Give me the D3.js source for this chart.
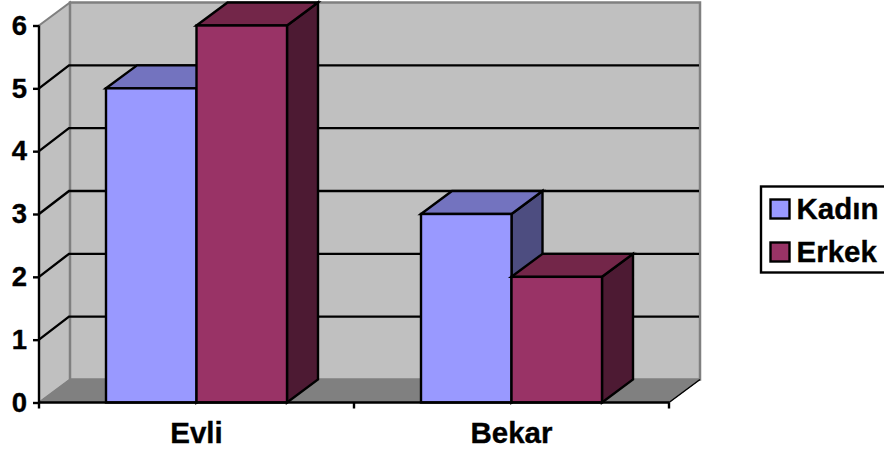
<!DOCTYPE html>
<html>
<head>
<meta charset="utf-8">
<script src="https://cdn.jsdelivr.net/npm/d3@7"></script>
<style>
html,body{margin:0;padding:0;background:#fff;overflow:hidden}
svg{display:block}
text{font-family:"Liberation Sans",Arial,sans-serif;font-weight:bold;fill:#000;stroke:#000;stroke-width:0.35px}
</style>
</head>
<body>
<svg id="chart" width="884" height="454"></svg>
<script>
// Chart values
const categories = ["Evli", "Bekar"];
const seriesNames = ["Kadın", "Erkek"];
const kadinValues = [5, 3];
const erkekValues = [6, 2];
const yTicks = [0, 1, 2, 3, 4, 5, 6];
const seriesValues = [kadinValues, erkekValues];

// Fill colours per series: front, top, side
const frontColors = ["#9999ff", "#993366"];
const topColors = ["#7373bf", "#732649"];
const sideColors = ["#4d4d80", "#4d1a33"];

const svg = d3.select("#chart");
const depthX = 31, depthY = -23;
const lineW = 2.4, tickFont = 27.5, labelFont = 29.5;

const y = d3.scaleLinear().domain([0, 6]).range([402.5, 25.5]);
const x0 = d3.scaleBand().domain(categories).range([39, 669]).paddingInner(0).paddingOuter(0);
const groupWidth = 181;
const x1 = d3.scaleBand().domain(d3.range(seriesNames.length)).range([0, groupWidth]);
const groupX = c => x0(c) + (x0.bandwidth() - groupWidth) / 2;

const poly = pts => pts.map(p => p.join(",")).join(" ");
const x0Left = x0.range()[0], xRight = x0.range()[1];
const yBase = y(0), yTop = y(6);

// Walls and floor of the 3D box
const wall = svg.append("g");
wall.append("polygon")
  .attr("points", poly([[x0Left, yBase], [x0Left + depthX, yBase + depthY], [x0Left + depthX, yTop + depthY], [x0Left, yTop]]))
  .attr("fill", "#c0c0c0").attr("stroke", "#808080").attr("stroke-width", 2);
wall.append("polygon")
  .attr("points", poly([[x0Left + depthX, yBase + depthY], [xRight + depthX, yBase + depthY], [xRight + depthX, yTop + depthY], [x0Left + depthX, yTop + depthY]]))
  .attr("fill", "#c0c0c0").attr("stroke", "#808080").attr("stroke-width", 2.5);
wall.append("polygon")
  .attr("points", poly([[x0Left, yBase], [xRight, yBase], [xRight + depthX, yBase + depthY], [x0Left + depthX, yBase + depthY]]))
  .attr("fill", "#808080").attr("stroke", "#808080").attr("stroke-width", 1);

// Gridlines across the side wall and the back wall
const grid = svg.append("g").attr("fill", "none").attr("stroke", "#000").attr("stroke-width", lineW);
yTicks.filter(t => t > 0 && t < 6).forEach(t => {
  grid.append("polyline")
    .attr("points", poly([[x0Left, y(t)], [x0Left + depthX - 1, y(t) + depthY], [xRight + depthX - 1, y(t) + depthY]]));
});

// Bars: side, top and front faces
const bars = svg.append("g").attr("stroke", "#000").attr("stroke-width", lineW).attr("stroke-linejoin", "miter");
categories.forEach((c, ci) => {
  seriesNames.forEach((s, si) => {
    const v = seriesValues[si][ci];
    const xa = groupX(c) + x1(si), xb = xa + x1.bandwidth();
    const yv = y(v);
    bars.append("polygon")
      .attr("points", poly([[xb, yBase], [xb + depthX, yBase + depthY], [xb + depthX, yv + depthY], [xb, yv]]))
      .attr("fill", sideColors[si]);
    bars.append("polygon")
      .attr("points", poly([[xa, yv], [xa + depthX, yv + depthY], [xb + depthX, yv + depthY], [xb, yv]]))
      .attr("fill", topColors[si]);
    bars.append("rect")
      .attr("x", xa).attr("y", yv).attr("width", xb - xa).attr("height", yBase - yv)
      .attr("fill", frontColors[si]);
  });
});

// Value axis
const yAxis = d3.axisLeft(y).tickValues(yTicks).tickFormat(d3.format("d")).tickSize(6).tickPadding(6);
const yG = svg.append("g").attr("transform", `translate(${x0Left},0)`).call(yAxis);
yG.selectAll("line,path").attr("stroke", "#000").attr("stroke-width", lineW);
yG.select(".domain").attr("d", `M0,${yTop}V${yBase}`);
yG.selectAll("text").attr("font-size", tickFont).style("font-family", '"Liberation Sans",Arial,sans-serif').style("font-weight", "bold");

// Category axis
const xAxis = d3.axisBottom(x0).tickSize(0).tickPadding(20);
const xG = svg.append("g").attr("transform", `translate(0,${yBase})`).call(xAxis);
xG.select(".domain").attr("d", `M${x0Left},0H${xRight}`).attr("stroke", "#000").attr("stroke-width", lineW);
xG.selectAll("text").attr("font-size", labelFont).style("font-family", '"Liberation Sans",Arial,sans-serif').style("font-weight", "bold");
xG.selectAll(".boundary").data([x0Left, x0Left + x0.step(), xRight]).enter().append("line")
  .attr("x1", d => d).attr("x2", d => d).attr("y1", 0).attr("y2", 6)
  .attr("stroke", "#000").attr("stroke-width", lineW);

// Final diagonal at the right end of the floor
svg.append("line")
  .attr("x1", xRight).attr("y1", yBase).attr("x2", xRight + depthX).attr("y2", yBase + depthY)
  .attr("stroke", "#000").attr("stroke-width", 1.5);

// Legend
const legend = svg.append("g");
legend.append("rect").attr("x", 761).attr("y", 186.5).attr("width", 130).attr("height", 86)
  .attr("fill", "#fff").attr("stroke", "#000").attr("stroke-width", lineW);
seriesNames.forEach((s, i) => {
  const rowY = 199.5 + i * 43;
  legend.append("rect").attr("x", 770.5).attr("y", rowY).attr("width", 19).attr("height", 19)
    .attr("fill", frontColors[i]).attr("stroke", "#000").attr("stroke-width", lineW);
  legend.append("text").attr("x", 796.5).attr("y", rowY + 19).attr("font-size", labelFont).text(s);
});
</script>
</body>
</html>
